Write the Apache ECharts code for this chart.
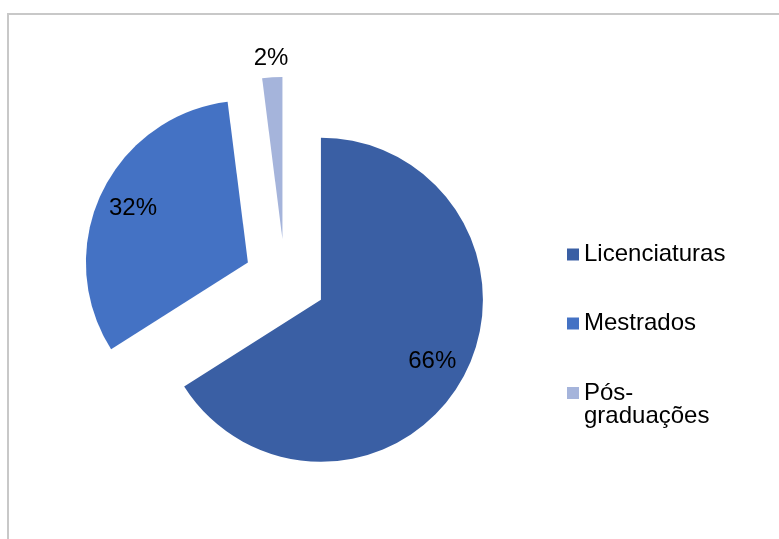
<!DOCTYPE html>
<html>
<head>
<meta charset="utf-8">
<script src="https://cdn.jsdelivr.net/npm/echarts@6/dist/echarts.min.js"></script>
<style>
  html, body { margin: 0; padding: 0; background: #fff; }
  #chart { width: 779px; height: 539px; }
</style>
</head>
<body>
<div id="chart"></div>
<script>
// Distribution of degree types
const categories = ['Licenciaturas', 'Mestrados', 'Pós-graduações'];
const values = [66, 32, 2];
const colors = ['#3A5FA4', '#4472C4', '#A5B4DB'];

const FONT = '"Liberation Sans", Arial, sans-serif';
const CENTER = [285, 280];
const RADIUS = 162;
const EXPLODE = 41;

const sliceData = categories.map((name, i) => ({
  name,
  value: values[i],
  selected: true,
  itemStyle: { color: colors[i] },
  select: { itemStyle: { color: colors[i] } }
}));

// transparent ring used only to place the percentage labels
const labelData = categories.map((name, i) => ({
  name,
  value: values[i],
  selected: true,
  itemStyle: { color: 'rgba(0,0,0,0)' },
  select: { itemStyle: { color: 'rgba(0,0,0,0)' } },
  label: i === 2
    ? { position: 'outside' }
    : { position: 'inside' },
  labelLine: { show: false, length: 19, length2: 0 }
}));

// legend text: the long name wraps after the hyphen, first line beside the marker
const legendText = name => name === 'Pós-graduações' ? '\nPós-\ngraduações' : name;

const chart = echarts.init(document.getElementById('chart'));
chart.setOption({
  animation: false,
  backgroundColor: '#ffffff',
  graphic: [{
    type: 'rect',
    shape: { x: 8, y: 14, width: 1000, height: 1000 },
    style: { fill: 'none', stroke: '#c8c8c8', lineWidth: 2 },
    silent: true
  }],
  legend: {
    orient: 'vertical',
    left: 567,
    top: 220,
    padding: 0,
    itemWidth: 12,
    itemHeight: 12,
    itemGap: 0,
    icon: 'rect',
    selectedMode: false,
    textStyle: { fontFamily: FONT, fontSize: 24, lineHeight: 23, color: '#000' },
    formatter: legendText,
    data: [
      { name: categories[0], textStyle: { padding: [23, 0, 23, 0] } },
      { name: categories[1], textStyle: { padding: [23, 0, 23, 0] } },
      { name: categories[2] }
    ]
  },
  series: [
    {
      type: 'pie',
      center: CENTER,
      radius: RADIUS,
      startAngle: 90,
      clockwise: true,
      selectedMode: 'multiple',
      selectedOffset: EXPLODE,
      silent: true,
      label: { show: false },
      labelLine: { show: false },
      data: sliceData
    },
    {
      type: 'pie',
      center: CENTER,
      radius: [86, RADIUS],
      startAngle: 90,
      clockwise: true,
      selectedMode: 'multiple',
      selectedOffset: EXPLODE,
      silent: true,
      avoidLabelOverlap: false,
      legendHoverLink: false,
      label: {
        show: true,
        formatter: '{d}%',
        fontFamily: FONT,
        fontSize: 24,
        color: '#000',
        distanceToLabelLine: 0
      },
      labelLayout: p => p.dataIndex === 2 ? { align: 'center' } : {},
      data: labelData
    }
  ]
});
</script>
</body>
</html>
